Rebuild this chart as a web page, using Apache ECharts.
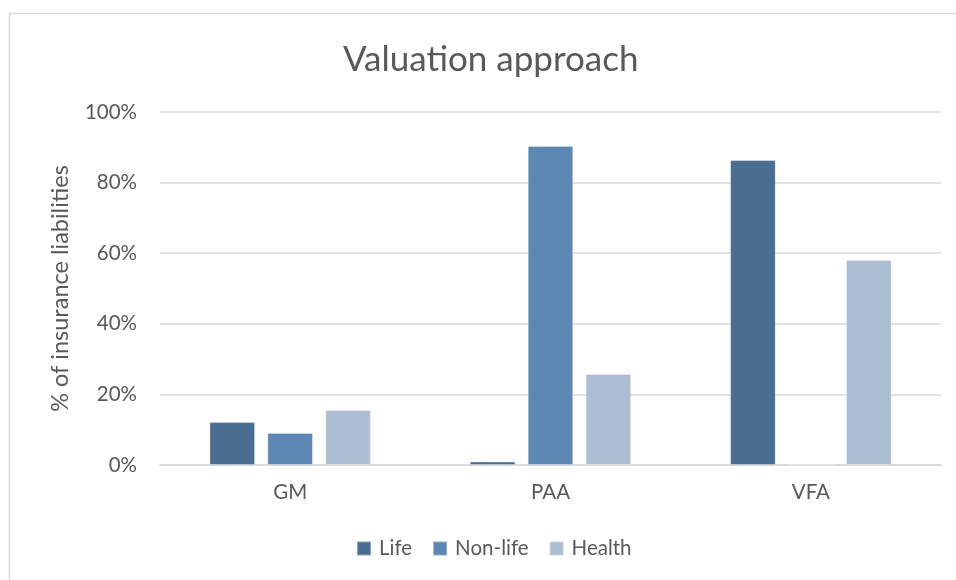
<!DOCTYPE html>
<html>
<head>
    <meta charset="UTF-8">
    <title>Valuation approach</title>
    <script src="https://cdn.jsdelivr.net/npm/echarts@6/dist/echarts.min.js"></script>
    <style>
        html, body { margin: 0; padding: 0; background: #fff; }
    </style>
</head>
<body>
    <div id="main" style="width: 956px;height:580px;"></div>
    <script type="text/javascript">
        // data
        var categories = ['GM', 'PAA', 'VFA'];
        var seriesNames = ['Life', 'Non-life', 'Health'];
        var lifeValues = [12.2, 1.0, 86.4];
        var nonLifeValues = [9.1, 90.4, 0];
        var healthValues = [15.6, 25.8, 58.1];
        var colors = ['#4a6d92', '#5b87b2', '#adbdd3'];

        var textColor = '#595959';
        var fontName = 'Lato, "Liberation Sans", sans-serif';

        var myChart = echarts.init(document.getElementById('main'));

        function makeSeries(name, data, color) {
            return {
                name: name,
                type: 'bar',
                data: data,
                barGap: '27%',
                barCategoryGap: '38%',
                itemStyle: { color: color, borderColor: 'rgba(255,255,255,0.35)', borderWidth: 1 }
            };
        }

        myChart.setOption({
            animation: false,
            color: colors,
            // the chart frame runs off the right edge, so title and legend sit right of page centre
            title: {
                text: 'Valuation approach',
                left: 338,
                top: 37,
                textStyle: { color: textColor, fontSize: 35, fontWeight: 'normal', fontFamily: fontName }
            },
            grid: { left: 160, right: 15, top: 112, bottom: 115, containLabel: false },
            legend: {
                data: seriesNames,
                bottom: 16,
                left: 351,
                icon: 'rect',
                itemWidth: 14,
                itemHeight: 14,
                itemGap: 20,
                textStyle: { color: textColor, fontSize: 20.5, fontFamily: fontName, padding: [0, 0, 0, 3] }
            },
            xAxis: {
                type: 'category',
                data: categories,
                axisLine: { lineStyle: { color: '#d9d9d9', width: 2 } },
                axisTick: { show: false },
                axisLabel: { color: textColor, fontSize: 20.5, margin: 17, fontFamily: fontName }
            },
            yAxis: {
                type: 'value',
                min: 0,
                max: 100,
                interval: 20,
                name: '% of insurance liabilities',
                nameLocation: 'middle',
                nameGap: 88,
                nameTextStyle: { color: textColor, fontSize: 23.5, fontFamily: fontName },
                axisLine: { show: false },
                axisTick: { show: false },
                splitLine: { lineStyle: { color: '#d9d9d9', width: 1.5 } },
                axisLabel: { color: textColor, fontSize: 20.5, margin: 23, fontFamily: fontName, formatter: '{value}%' }
            },
            graphic: [{
                type: 'rect',
                shape: { x: 9.5, y: 13.5, width: 960, height: 580 },
                style: { fill: 'none', stroke: '#d9d9d9', lineWidth: 1.5 },
                silent: true,
                z: -1
            }],
            series: [
                makeSeries(seriesNames[0], lifeValues, colors[0]),
                makeSeries(seriesNames[1], nonLifeValues, colors[1]),
                makeSeries(seriesNames[2], healthValues, colors[2])
            ]
        });
    </script>
</body>
</html>
